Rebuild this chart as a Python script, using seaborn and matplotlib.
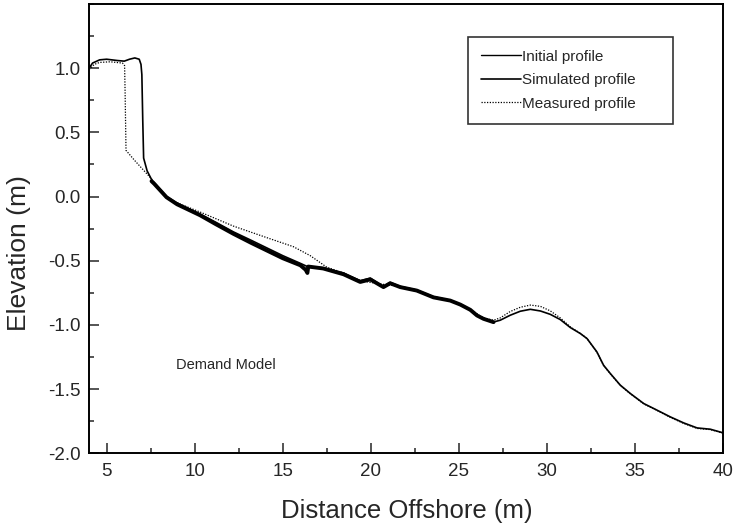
import numpy as np
import pandas as pd
import matplotlib
matplotlib.use("Agg")
import matplotlib.pyplot as plt
from matplotlib.lines import Line2D
from matplotlib.ticker import MultipleLocator
import seaborn as sns

# Profile data (distance offshore in m, elevation in m)
# ------------------------------------------------------------------
initial_x = [4.0, 4.2, 4.6, 5.0, 5.6, 6.0, 6.3, 6.6, 6.85, 6.95, 7.0, 7.05, 7.1, 7.3,
             7.6, 7.85, 8.4, 9.0, 10.3, 11.2, 12.2, 13.2, 14.1, 15.0, 16.0, 16.4,
             17.3, 18.45, 19.4, 19.97, 20.53, 20.72, 21.1, 21.67, 22.61, 23.56, 24.51,
             25.08, 25.65, 26.03, 26.4, 26.97, 27.35, 27.92, 28.49, 29.06, 29.63,
             30.19, 30.76, 31.33, 31.9, 32.28, 32.84, 33.22, 33.6, 34.17, 34.74, 35.5,
             36.26, 37.01, 37.77, 38.53, 39.28, 40.0]
initial_y = [1.00, 1.04, 1.065, 1.07, 1.06, 1.055, 1.07, 1.08, 1.07, 1.03, 0.95, 0.60,
             0.30, 0.20, 0.12, 0.085, 0.0, -0.05, -0.135, -0.20, -0.275, -0.34, -0.40,
             -0.46, -0.52, -0.545, -0.555, -0.595, -0.655, -0.635, -0.685, -0.70,
             -0.668, -0.70, -0.728, -0.78, -0.808, -0.839, -0.88, -0.924, -0.95,
             -0.977, -0.963, -0.924, -0.893, -0.878, -0.891, -0.917, -0.958, -1.02,
             -1.067, -1.106, -1.21, -1.314, -1.378, -1.469, -1.534, -1.612, -1.664,
             -1.716, -1.763, -1.802, -1.812, -1.84]

simulated_x = [7.55, 7.7, 8.4, 9.0, 10.3, 11.2, 12.2, 13.2, 14.1, 15.0, 16.0, 16.3,
               16.4, 16.45, 17.3, 18.45, 19.4, 19.97, 20.53, 20.72, 21.1, 21.67, 22.61,
               23.56, 24.51, 25.08, 25.65, 26.03, 26.4, 26.97]
simulated_y = [0.12, 0.10, -0.005, -0.06, -0.145, -0.215, -0.29, -0.36, -0.42, -0.48,
               -0.535, -0.57, -0.595, -0.545, -0.56, -0.605, -0.665, -0.645, -0.69,
               -0.705, -0.675, -0.705, -0.732, -0.785, -0.81, -0.841, -0.882, -0.926,
               -0.952, -0.978]

measured_x = [4.0, 4.3, 4.6, 5.2, 5.9, 6.02, 6.05, 6.1, 6.6, 7.0, 7.47, 7.85, 8.4, 9.2,
              10.3, 12.2, 14.1, 15.6, 16.56, 17.5, 18.45, 19.4, 20.5, 21.67, 23.56,
              24.51, 25.65, 26.4, 26.97, 27.35, 27.92, 28.49, 29.06, 29.63, 30.19,
              30.76, 31.33, 31.9, 32.28, 32.84, 33.22, 33.6, 34.17, 34.74, 35.5, 36.26,
              37.01, 37.77, 38.53, 39.28, 40.0]
measured_y = [0.99, 1.03, 1.045, 1.05, 1.04, 1.02, 0.80, 0.36, 0.28, 0.22, 0.15, 0.09,
              -0.005, -0.06, -0.12, -0.23, -0.32, -0.39, -0.46, -0.55, -0.595, -0.655,
              -0.68, -0.70, -0.78, -0.808, -0.88, -0.945, -0.963, -0.945, -0.895,
              -0.862, -0.845, -0.855, -0.89, -0.945, -1.015, -1.065, -1.106, -1.212,
              -1.316, -1.38, -1.472, -1.536, -1.615, -1.666, -1.72, -1.767, -1.806,
              -1.815, -1.842]

series_names = ["Initial profile", "Simulated profile", "Measured profile"]

sns.set_style("ticks")
plt.rcParams["font.family"] = ["Liberation Sans", "DejaVu Sans"]

fig, ax = plt.subplots(figsize=(7.37, 5.29), dpi=100)
fig.subplots_adjust(left=0.1208, right=0.981, bottom=0.143, top=0.9924)

initial = pd.DataFrame({"x": initial_x, "y": initial_y})
simulated = pd.DataFrame({"x": simulated_x, "y": simulated_y})
measured = pd.DataFrame({"x": measured_x, "y": measured_y})

dotted = (0, (1, 1.2))
sns.lineplot(data=measured, x="x", y="y", sort=False, estimator=None, ax=ax,
             color="black", linewidth=0.9, linestyle=dotted)
sns.lineplot(data=initial, x="x", y="y", sort=False, estimator=None, ax=ax,
             color="black", linewidth=1.2)
sns.lineplot(data=simulated, x="x", y="y", sort=False, estimator=None, ax=ax,
             color="black", linewidth=2.8)

ax.set_xlim(4, 40)
ax.set_ylim(-2.0, 1.5)
ax.set_xticks([5, 10, 15, 20, 25, 30, 35, 40])
ax.set_yticks([-2.0, -1.5, -1.0, -0.5, 0.0, 0.5, 1.0])
ax.set_yticklabels(["-2.0", "-1.5", "-1.0", "-0.5", "0.0", "0.5", "1.0"])
ax.xaxis.set_minor_locator(MultipleLocator(2.5))
ax.yaxis.set_minor_locator(MultipleLocator(0.25))
ax.tick_params(which="major", direction="in", length=7, width=1.1, labelsize=13.5, pad=6)
ax.tick_params(axis="x", which="major", pad=7)
ax.tick_params(which="minor", direction="in", length=3.6, width=1.1)
for side in ["left", "bottom", "top", "right"]:
    ax.spines[side].set_linewidth(1.4)
    ax.spines[side].set_color("black")

ax.set_xlabel("Distance Offshore (m)", fontsize=18.5)
ax.set_ylabel("Elevation (m)", fontsize=19)
ax.xaxis.set_label_coords(0.5016, -0.102)
ax.yaxis.set_label_coords(-0.092, 0.446)

ax.text(8.94, -1.31, "Demand Model", fontsize=10.5, ha="left", va="center")

handles = [Line2D([], [], color="black", linewidth=1.0),
           Line2D([], [], color="black", linewidth=1.2),
           Line2D([], [], color="black", linewidth=0.9, linestyle=dotted)]
leg = ax.legend(handles, series_names, loc="upper left",
                bbox_to_anchor=(0.598, 0.724, 0.323, 0.203), mode="expand",
                fontsize=11, frameon=True, fancybox=False, handlelength=2.6,
                handletextpad=0.05, borderpad=0.85, borderaxespad=0,
                labelspacing=0.62)
leg.get_frame().set_edgecolor("black")
leg.get_frame().set_linewidth(1.2)

plt.savefig("out.png", dpi=100)
plt.close()
